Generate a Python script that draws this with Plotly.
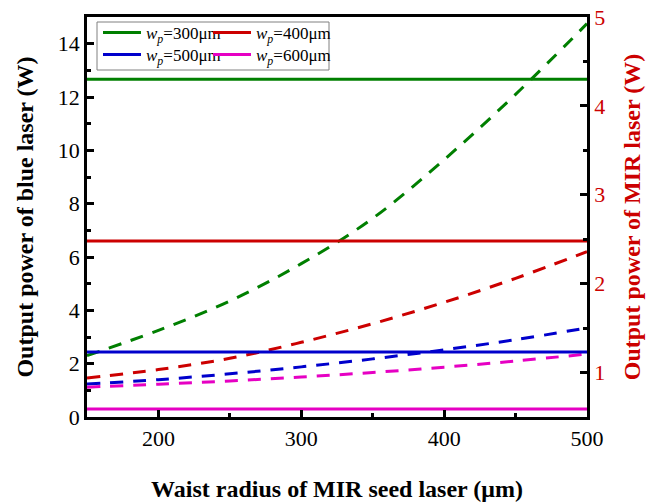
import plotly.graph_objects as go

# x values: waist radius of MIR seed laser (um)
x_seed = [150, 200, 250, 300, 350, 400, 450, 500]

# Blue laser output power (W), left axis, dashed
blue_300 = [2.3, 3.25, 4.35, 5.75, 7.45, 9.65, 12.1, 14.75]
blue_400 = [1.46, 1.78, 2.2, 2.8, 3.5, 4.3, 5.2, 6.2]
blue_500 = [1.24, 1.4, 1.62, 1.88, 2.18, 2.52, 2.9, 3.34]
blue_600 = [1.12, 1.23, 1.35, 1.5, 1.67, 1.87, 2.1, 2.36]

# MIR laser output power (W), right axis, solid (constant)
x_mir = [150, 500]
mir_300 = [4.30, 4.30]
mir_400 = [2.48, 2.48]
mir_500 = [1.23, 1.23]
mir_600 = [0.59, 0.59]

labels = ["300", "400", "500", "600"]
colors = ["#007f00", "#cc0000", "#0000cc", "#e600c3"]

FONT = "Liberation Serif"
fig = go.Figure()

blue_sets = [blue_300, blue_400, blue_500, blue_600]
mir_sets = [mir_300, mir_400, mir_500, mir_600]
legend_ids = ["legend", "legend2", "legend3", "legend4"]

for lab, col, yb, ym, lg in zip(labels, colors, blue_sets, mir_sets, legend_ids):
    fig.add_trace(go.Scatter(
        x=x_seed, y=yb, mode="lines", line=dict(color=col, width=3, dash="13px,10px", shape="spline"),
        showlegend=False, yaxis="y", hoverinfo="skip"))
    fig.add_trace(go.Scatter(
        x=x_mir, y=ym, mode="lines", line=dict(color=col, width=3),
        name="<i>w</i><sub><i>p</i></sub>=" + lab + "μm", yaxis="y2", legend=lg))

axis_line = dict(showline=True, linecolor="black", linewidth=2.5, showgrid=False, zeroline=False,
                 automargin=False)

def leg(x, y):
    return dict(x=x, y=y, xanchor="left", yanchor="middle", bgcolor="rgba(0,0,0,0)",
                font=dict(size=17), tracegroupgap=0, borderwidth=0, itemwidth=38)

fig.update_layout(
    width=648, height=502,
    margin=dict(l=87, r=61, t=17, b=85, autoexpand=False),
    plot_bgcolor="white", paper_bgcolor="white",
    font=dict(family=FONT, size=22, color="black"),
    xaxis=dict(range=[150, 500], dtick=100, tick0=200, ticks="inside", ticklen=7, tickwidth=2.5,
               tickcolor="black", mirror=True,
               minor=dict(ticks="inside", ticklen=4, tickwidth=2.5, dtick=50, tick0=150, tickcolor="black"),
               title=dict(text="<b>Waist radius of MIR seed laser (μm)</b>", font=dict(size=24), standoff=31),
               **axis_line),
    yaxis=dict(range=[0, 15], dtick=2, ticks="inside", ticklen=7, tickwidth=2.5, tickcolor="black",
               minor=dict(ticks="inside", ticklen=4, tickwidth=2.5, dtick=1, tickcolor="black"),
               title=dict(text="<b>Output power of blue laser (W)</b>", font=dict(size=24), standoff=18),
               **axis_line),
    yaxis2=dict(range=[0.5, 5], dtick=1, tick0=1, overlaying="y", side="right", ticks="inside", ticklen=7,
                tickwidth=2.5, tickcolor="black", tickfont=dict(color="#cc0000"),
                minor=dict(ticks="inside", ticklen=4, tickwidth=2.5, dtick=0.5, tick0=0.5, tickcolor="black"),
                title=dict(text="<b>Output power of MIR laser (W)</b>", font=dict(size=24, color="#cc0000"), standoff=20),
                **axis_line),
    legend=leg(0.022, 0.96),
    legend2=leg(0.242, 0.96),
    legend3=leg(0.022, 0.905),
    legend4=leg(0.242, 0.905),
    shapes=[dict(type="rect", xref="paper", yref="paper", x0=0.02, x1=0.484, y0=0.8675, y1=0.9875,
                 line=dict(color="#808080", width=1), fillcolor="rgba(0,0,0,0)")],
)

fig.write_html("out.html")
